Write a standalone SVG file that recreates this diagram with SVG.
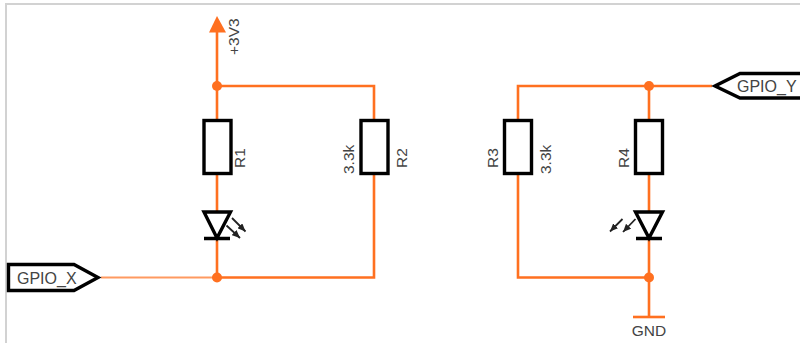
<svg xmlns="http://www.w3.org/2000/svg" width="800" height="343" viewBox="0 0 800 343">
<style>
.w{fill:none;stroke:#ff7020;stroke-width:2.6}
.j{fill:#ff7020;stroke:none}
.b{fill:#fff;stroke:#000;stroke-width:3.400}
.l{fill:none;stroke:#000;stroke-width:3.400}
.r{fill:none;stroke:#222;stroke-width:1.800}
text{font-family:"Liberation Sans",Arial,sans-serif;font-size:15.500px;fill:#444}
.g{font-size:16px}
</style>
<defs>
<marker id="ah" markerUnits="userSpaceOnUse" markerWidth="9" markerHeight="7" refX="8" refY="3.500" orient="auto"><path d="M0 0L8 3.500L0 7Z" fill="#222"/></marker>
</defs>
<rect width="800" height="343" fill="#fff"/>
<path d="M6 343V4H800" fill="none" stroke="#d2d2d2" stroke-width="2"/>
<g id="connectors">
<path class="w" d="M217 30V120M217 173V211M217 239V277.500M217 86H374V120M374 173V277.500H217"/>
<path d="M101 277.500H217" fill="none" stroke="#ff9a60" stroke-width="1.800"/>
<path class="w" d="M712 86H518V120M518 173V277.500H649M649 86V120M649 173V211M649 239V317"/>
<circle class="j" cx="217" cy="86" r="5"/>
<circle class="j" cx="217" cy="277.500" r="5"/>
<circle class="j" cx="649" cy="86" r="5"/>
<circle class="j" cx="649" cy="277.500" r="5"/>
</g>
<g id="vcc"><path class="j" d="M217 16L226 32.500H209Z"/><text transform="translate(239 55) rotate(-90)">+3V3</text></g>
<g id="R1"><rect class="b" x="204" y="120.500" width="27" height="53"/><text transform="translate(245 168) rotate(-90)">R1</text></g>
<g id="R2"><rect class="b" x="361" y="120.500" width="27" height="53"/><text transform="translate(354 174) rotate(-90)">3.3k</text><text transform="translate(407 168) rotate(-90)">R2</text></g>
<g id="R3"><rect class="b" x="504.500" y="120.500" width="27" height="53"/><text transform="translate(498 168) rotate(-90)">R3</text><text transform="translate(551 174) rotate(-90)">3.3k</text></g>
<g id="R4"><rect class="b" x="635.500" y="120.500" width="27" height="53"/><text transform="translate(629 168) rotate(-90)">R4</text></g>
<g id="LED1"><path class="l" d="M204 212H230.500L217 238ZM204 238.500H230"/><path class="r" marker-end="url(#ah)" d="M232 218L245.500 231.500"/><path class="r" marker-end="url(#ah)" d="M226.500 225.500L240 238"/></g>
<g id="LED2"><path class="l" d="M635.500 212H662.500L649 238ZM636 238.500H662"/><path class="r" marker-end="url(#ah)" d="M622.500 219L610 231.500"/><path class="r" marker-end="url(#ah)" d="M635.500 219L623 232"/></g>
<g id="GPIO_X"><path class="b" d="M8.500 264.500H74L98 277.500L74 290.500H8.500Z"/><text class="g" x="17" y="284">GPIO_X</text></g>
<g id="GPIO_Y"><path class="b" d="M802 73.500H740L715 86L740 98H802Z"/><text class="g" x="737" y="92">GPIO_Y</text></g>
<g id="GND"><path class="w" d="M633 317H665"/><text x="649" y="336" text-anchor="middle">GND</text></g>
</svg>
